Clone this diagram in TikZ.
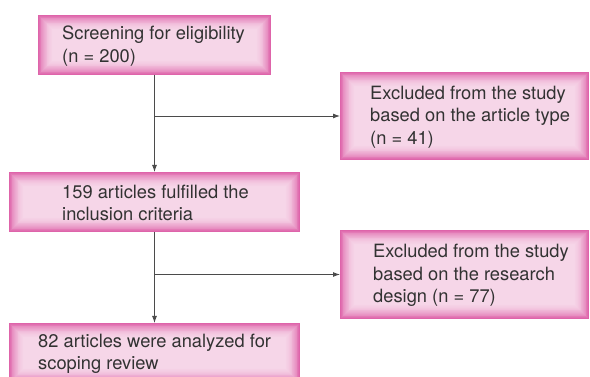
\documentclass[tikz,border=0pt]{standalone}
\usepackage{fontspec}
\setmainfont{TeX Gyre Heros}
\usetikzlibrary{arrows.meta}
\definecolor{pinkedge}{RGB}{222,100,170}
\definecolor{pinkmid}{RGB}{246,214,232}
\definecolor{txtgray}{RGB}{50,50,50}
\definecolor{linegray}{RGB}{75,75,75}
\tikzset{
  glowbox/.style={inner sep=0pt, outer sep=0pt,
    path picture={
      \fill[pinkedge] (path picture bounding box.south west) rectangle (path picture bounding box.north east);
      \foreach \i in {1,...,18}{
        \pgfmathsetmacro\p{100*(1-\i/18)^1.8}
        \fill[pinkedge!\p!pinkmid]
          ([shift={(\i*0.85pt,\i*0.85pt)}]path picture bounding box.south west) rectangle
          ([shift={(-\i*0.85pt,-\i*0.85pt)}]path picture bounding box.north east);
      }
    }},
  txt/.style={inner sep=0pt, align=left, text=txtgray, font=\fontsize{18.3}{22.5}\selectfont},
  conn/.style={draw=linegray, line width=0.9pt},
  arr/.style={conn, -{Latex[length=7pt,width=5pt]}},
}
\begin{document}
\begin{tikzpicture}[x=1pt,y=-1pt]
\useasboundingbox (0,0) rectangle (590,377);
\clip (0,0) rectangle (590,377);
% boxes
\node[glowbox, minimum width=233pt, minimum height=60pt] (b1) at (154.5,45) {};
\node[glowbox, minimum width=249pt, minimum height=88pt] (b2) at (464.5,116) {};
\node[glowbox, minimum width=291pt, minimum height=60pt] (b3) at (154.5,202) {};
\node[glowbox, minimum width=249pt, minimum height=89pt] (b5) at (464.5,274.5) {};
\node[glowbox, minimum width=291pt, minimum height=60pt] (b4) at (154.5,353) {};
% texts
\node[txt, anchor=west] (t1) at ([xshift=24pt,yshift=-1pt]b1.west) {Screening for eligibility\\(n = 200)};
\node[txt, anchor=west] (t2) at ([xshift=30pt,yshift=-1pt]b2.west) {Excluded from the study\\based on the article type\\(n = 41)};
\node[txt, anchor=west] (t3) at ([xshift=53pt,yshift=-1pt]b3.west) {159 articles fulfilled the\\inclusion criteria};
\node[txt, anchor=west] (t5) at ([xshift=33pt,yshift=-1pt]b5.west) {Excluded from the study\\based on the research\\design (n = 77)};
\node[txt, anchor=west] (t4) at ([xshift=29pt,yshift=-1pt]b4.west) {82 articles were analyzed for\\scoping review};
% connectors
\coordinate (j1) at (b1.south |- b2.west);
\coordinate (j2) at (b3.south |- b5.west);
\draw[arr] (b1.south) -- (b3.north);
\draw[arr] (j1) -- (b2.west);
\draw[arr] (b3.south) -- (b4.north);
\draw[arr] (j2) -- (b5.west);
\end{tikzpicture}
\end{document}
